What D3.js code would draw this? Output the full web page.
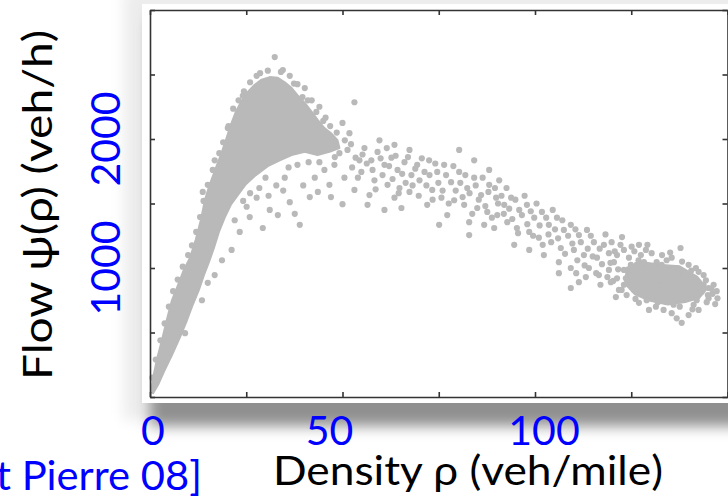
<!DOCTYPE html>
<html><head><meta charset="utf-8">
<script src="https://cdn.jsdelivr.net/npm/d3@7"></script>
<style>html,body{margin:0;padding:0;background:#fff;overflow:hidden}</style>
</head><body><div id="chart"></div>
<script>
// ---- data (density veh/mile, flow veh/h) ----
const densityTicks = [0, 25, 50, 75, 100, 125, 150];
const flowTicks = [0, 500, 1000, 1500, 2000, 2500, 3000];
const xTickLabels = ["0", "50", "100"];
const yTickLabels = ["1000", "2000"];
const xTitle = "Density ρ (veh/mile)";
const yTitle = "Flow ψ(ρ) (veh/h)";
const citation = "[Saint Pierre 08]";

// dense free-flow core: upper edge then lower edge
const coreUpper = [[0.3,40],[0.8,150],[1.8,290],[3.1,440],[4.4,600],[5.7,750],[7.3,870],[8.8,985],[10.4,1080],[11.9,1220],[13.2,1370],[14.3,1530],[15.5,1645],[17.1,1775],[18.4,1875],[19.7,1990],[21.0,2110],[22.3,2210],[23.6,2285],[25.4,2365],[27.2,2420],[29.0,2460],[31.1,2480],[33.2,2475],[35.0,2440],[36.8,2395],[38.3,2340],[40.2,2280],[42.0,2210],[43.5,2150],[45.3,2085],[47.2,2040],[48.7,1990],[49.2,1930]];
const coreLower = [[46.6,1900],[43.5,1875],[40.2,1900],[36.8,1875],[33.7,1835],[30.6,1790],[27.5,1720],[24.9,1650],[22.8,1565],[21.0,1490],[19.4,1390],[17.9,1280],[16.6,1155],[15.3,1045],[14.0,945],[12.7,830],[11.1,715],[9.6,595],[7.8,465],[5.7,325],[3.6,195],[2.1,95],[0.8,30]];
// densest part of the congested cluster
const jamCore = [[124.0,1000],[128.0,1040],[133.0,1020],[137.5,1010],[142.0,930],[144.5,840],[142.5,770],[139.0,740],[134.5,720],[130.0,750],[126.0,800],[123.5,880]];
// scattered measurements around the free-flow branch
const freeFlowPoints = [[13.7,1590],[16.8,1835],[20.2,2085],[24.1,2335],[27.7,2490],[32.4,2635],[34.5,2535],[36.3,2490],[38.3,2425],[40.2,2395],[39.6,2325],[44.0,2250],[53.1,2285],[50.0,2125],[51.8,2045],[49.2,1890],[45.6,2165],[42.0,2300],
[27.7,1545],[31.1,1450],[25.9,1395],[36.3,1510],[37.6,1420],[41.5,1550],[50.0,1495],[25.1,1475],[22.0,1370],[29.3,1310],[33.2,1410],[38.9,1335],[23.3,1280],[21.2,1140],[18.7,1060],[16.8,945],[15.0,885],[13.5,750],[9.1,495],
[47.9,1800],[45.3,1760],[42.8,1700],[50.5,1700],[46.6,1645],[54.4,1835],
[46.5,1950],[44.8,1980],[48.0,1860],[44.0,1820],[41.2,1820],[38.3,1800],[36.0,1780],[35.0,1700],[32.8,1640],[30.0,1700],[28.4,1620],[26.0,1580],[24.2,1520],[34.6,1600],[39.8,1640],[43.6,1590],[47.0,1550],[30.8,1560],[52.2,1960],[50.6,1990],[48.5,2050],[46.8,2100],[45.0,2140],[43.2,2210],[41.0,2300],[37.4,2430],[34.0,2520],[30.6,2530],[28.6,2510],[26.0,2440],[24.4,2370],[23.0,2300],[21.6,2235],[20.4,2100],[19.0,1975],[18.0,1890],[16.3,1760],[15.0,1645],[13.9,1520],[13.0,1395],[12.0,1280],[10.9,1175],[9.9,1100],[8.5,1010],[7.2,910],[6.0,820],[4.9,700],[3.8,570],[2.7,440],[1.5,290],[0.6,150]];
// scattered measurements along the congested branch
const congestedPoints = [[51.3,1915],[53.4,1855],[55.7,1930],[57.5,1835],[59.1,1900],[60.9,1800],[62.7,1855],[64.3,1760],[66.1,1820],[67.9,1720],[54.9,1745],[58.3,1680],[61.7,1645],[64.8,1620],[53.1,1605],[57.0,1565],[63.5,1545],[67.4,1590],[70.0,1680],[69.4,1800],[71.3,1745],[59.6,1990],[63.5,1955],[67.4,1915],[56.5,1490],[60.9,1450],[65.3,1465],
[72.5,1835],[74.6,1745],[76.4,1800],[78.2,1665],[80.3,1745],[82.4,1620],[84.2,1700],[86.0,1565],[88.1,1645],[89.9,1545],[73.3,1605],[75.7,1545],[79.0,1525],[81.6,1490],[85.0,1465],[87.6,1435],[90.2,1410],[77.2,1410],[72.0,1490],[82.9,1355],[86.8,1335],[80.3,1915],[84.2,1835],[88.1,1760],[90.7,1680],[89.4,1310],[75.1,1335],[82.9,1255],
[92.0,1490],[93.8,1545],[95.9,1450],[97.9,1490],[99.8,1390],[101.8,1435],[103.6,1335],[105.7,1390],[107.5,1295],[109.3,1335],[111.4,1255],[113.5,1295],[115.3,1200],[92.8,1355],[95.3,1310],[98.5,1280],[101.0,1235],[104.2,1200],[106.7,1155],[110.1,1140],[112.7,1100],[116.1,1080],[102.3,1100],[106.2,1045],[109.3,1000],[106.2,960],[109.3,845],[111.4,890],[94.6,1180],[98.5,1140],[114.0,1000],[116.6,945],
[117.9,1180],[119.2,1115],[120.5,1045],[122.6,1240],[123.1,1140],[124.4,1080],[125.1,1165],[126.4,1025],[127.5,1100],[129.0,1000],[130.3,1115],[131.6,1045],[132.7,970],[134.2,1060],[135.5,1080],[136.8,1000],[137.8,1155],[138.6,945],[139.9,1025],[141.2,905],[142.5,970],[143.8,870],[145.1,845],[146.1,800],[147.4,765],
[119.2,985],[121.3,920],[123.1,870],[124.9,945],[127.0,890],[128.3,815],[129.6,905],[130.8,830],[132.1,765],[133.4,870],[134.7,790],[136.0,715],[137.3,830],[139.4,765],[140.4,845],[142.0,750],[143.3,815],[144.6,735],[121.0,775],[127.0,730],[131.4,700],[135.5,650],[138.1,575],[139.9,635],[142.5,675],[123.8,790],[129.0,750],[133.4,675],[136.8,610],[141.2,715],[121.8,830],[125.7,830],[119.7,890],[142.5,830],[138.6,870],[134.2,920],[130.1,970],[126.2,985],[123.1,985],[132.1,905],[136.0,870],[139.9,905],[145.1,765],[143.8,945],[146.4,870],[128.3,1045],[124.9,1025],[121.3,1100],[132.9,1025],[141.2,830],[129.6,675],[127.0,1180],
[52.5,1780],[54.0,1700],[55.2,1880],[56.3,1810],[57.8,1760],[58.6,1610],[59.9,1850],[60.4,1720],[61.5,1930],[62.1,1790],[63.0,1690],[63.8,1870],[64.6,1580],[65.5,1730],[66.4,1660],[67.0,1860],[68.2,1640],[68.9,1770],[69.8,1560],[70.6,1850],[71.8,1640],[72.6,1720],[73.4,1530],[74.1,1810],[74.9,1660],[76.0,1600],[76.9,1720],[77.6,1500],[78.8,1790],[79.4,1600],[80.6,1660],[81.2,1550],[81.9,1720],[83.0,1580],[83.7,1420],[84.6,1640],[85.4,1530],[86.4,1700],[87.1,1480],[87.9,1590],[88.8,1390],[89.6,1620],[90.4,1500],[91.3,1560],[91.9,1420],[92.6,1620],[93.3,1460],[94.1,1380],[94.9,1530],[95.6,1270],[96.6,1410],[97.3,1560],[98.0,1340],[98.9,1440],[99.5,1250],[100.4,1500],[101.2,1330],[102.0,1180],[102.9,1390],[103.5,1260],[104.6,1450],[105.2,1300],[106.0,1230],[107.1,1370],[107.8,1110],[108.6,1250],[109.7,1190],[110.5,1300],[111.0,1060],[111.9,1200],[112.9,1020],[113.7,1150],[114.5,1250],[115.0,1090],[115.9,960],[116.8,1150],[117.4,1030],[118.3,1260],[118.8,930],[119.9,1200],[120.7,1130],[121.6,990],[122.2,1180],[123.6,920],[125.8,1130],[126.9,1060],[128.8,1140],[130.9,1000],[133.8,990],[135.1,1120],[137.0,960],[138.2,1050],[140.6,980],[141.8,1000],[144.4,905],[145.8,840],[147.2,820],[146.8,720],[144.9,790],[140.9,680],[137.6,700],[134.0,740],[131.9,735],[126.1,760],[122.5,830],[120.3,900],[133.0,1100],[129.2,1180],[119.6,1040],[117.0,870],[113.2,930],[110.7,960]];

// ---- drawing ----
const W = 728, H = 496;
const x = d3.scaleLinear().domain([0, 150]).range([150, 727.5]);
const y = d3.scaleLinear().domain([0, 3000]).range([397, 10]);
const svg = d3.select("#chart").append("svg").attr("width", W).attr("height", H)
  .style("font-family", "Lato, 'Open Sans', sans-serif");
const defs = svg.append("defs");
defs.append("filter").attr("id", "blurBig").attr("x", "-20%").attr("y", "-20%").attr("width", "140%").attr("height", "140%")
  .append("feGaussianBlur").attr("stdDeviation", 7);
defs.append("filter").attr("id", "blurSoft").attr("x", "-20%").attr("y", "-20%").attr("width", "140%").attr("height", "140%")
  .append("feGaussianBlur").attr("stdDeviation", 0.5);

svg.append("rect").attr("width", W).attr("height", H).attr("fill", "#fff");
// picture shadow
svg.append("rect").attr("x", 124).attr("y", -10).attr("width", 640).attr("height", 430)
  .attr("fill", "#ececec").attr("filter", "url(#blurBig)");
svg.append("rect").attr("x", 150).attr("y", 20).attr("width", 620).attr("height", 406)
  .attr("fill", "#909090").attr("filter", "url(#blurBig)");
// picture background
svg.append("rect").attr("x", 142).attr("y", 4).attr("width", 600).attr("height", 399).attr("fill", "#fff");

const plot = svg.append("g").attr("filter", "url(#blurSoft)");
const line = d3.line().x(d => x(d[0])).y(d => y(d[1]));
plot.append("path").attr("d", line(coreUpper.concat(coreLower)) + "Z")
  .attr("fill", "#b9b9b9").attr("stroke", "#b9b9b9").attr("stroke-width", 2).attr("stroke-linejoin", "round");
plot.append("path").attr("d", line(jamCore) + "Z")
  .attr("fill", "#b9b9b9").attr("stroke", "#b9b9b9").attr("stroke-width", 3).attr("stroke-linejoin", "round");
plot.selectAll("circle.pt").data(freeFlowPoints.concat(congestedPoints)).join("circle")
  .attr("class", "pt").attr("cx", d => x(d[0])).attr("cy", d => y(d[1])).attr("r", 3.1).attr("fill", "#b9b9b9");

// frame with inward ticks
const frame = svg.append("g");
function styleAxis(g) {
  g.selectAll("path.domain").attr("stroke", "#333").attr("stroke-width", 1.6);
  g.selectAll(".tick line").attr("stroke", "#333").attr("stroke-width", 1.6);
  g.selectAll(".tick text").remove();
}
frame.append("g").attr("transform", `translate(0,${y(0)})`)
  .call(d3.axisBottom(x).tickValues(densityTicks).tickSize(-5).tickSizeOuter(0).tickFormat("")).call(styleAxis);
frame.append("g").attr("transform", `translate(0,${y(3000)})`)
  .call(d3.axisTop(x).tickValues(densityTicks).tickSize(-5).tickSizeOuter(0).tickFormat("")).call(styleAxis);
frame.append("g").attr("transform", `translate(${x(0)},0)`)
  .call(d3.axisLeft(y).tickValues(flowTicks).tickSize(-5).tickSizeOuter(0).tickFormat("")).call(styleAxis);
frame.append("g").attr("transform", `translate(${x(150)},0)`)
  .call(d3.axisRight(y).tickValues(flowTicks).tickSize(-5).tickSizeOuter(0).tickFormat("")).call(styleAxis);

// overlaid labels
const blue = "#0000ff";
const fs = 41;
const xNudge = [3, -13, 9];
svg.selectAll("text.xl").data(xTickLabels).join("text").attr("class", "xl")
  .attr("x", (d, i) => x(+d) + xNudge[i]).attr("y", 445).attr("text-anchor", "middle")
  .attr("font-size", fs).attr("fill", blue).text(d => d);
svg.selectAll("text.yl").data(yTickLabels).join("text").attr("class", "yl")
  .attr("transform", d => `translate(120,${y(+d)}) rotate(-90)`).attr("text-anchor", "middle")
  .attr("font-size", fs).attr("fill", blue).text(d => d);
svg.append("text").attr("x", 273).attr("y", 485).attr("font-size", fs).attr("fill", "#000")
  .attr("textLength", 390).attr("lengthAdjust", "spacingAndGlyphs").text(xTitle);
svg.append("text").attr("transform", "translate(52,205) rotate(-90)").attr("text-anchor", "middle")
  .attr("font-size", fs).attr("fill", "#000")
  .attr("textLength", 350).attr("lengthAdjust", "spacingAndGlyphs").text(yTitle);
const cit = svg.append("text").attr("x", 0).attr("y", 490)
  .attr("font-size", fs).attr("fill", blue).text(citation);
// shift so that only "t Pierre 08]" remains on screen, as in the picture
const tIndex = citation.indexOf("t ");
const tStart = cit.node().getStartPositionOfChar(tIndex).x;
const endX = cit.node().getEndPositionOfChar(citation.length - 1).x;
const visibleW = endX - tStart;
const scaleX = 206 / visibleW;
cit.attr("transform", `translate(${-tStart * scaleX - 4},0) scale(${scaleX},1)`);
</script></body></html>
